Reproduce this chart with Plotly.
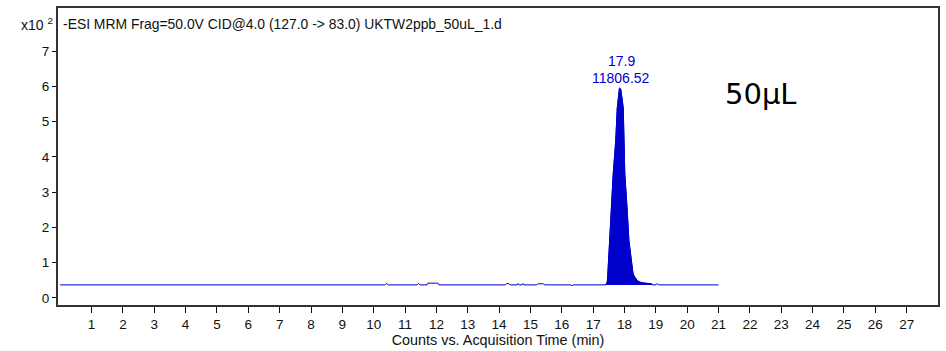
import plotly.graph_objects as go

# Chromatogram (counts in units of 10^2)
time_min = [0.0, 10.35, 10.41, 10.47, 11.38, 11.43, 11.48, 11.70, 11.73, 12.05, 12.08,
            14.20, 14.24, 14.31, 14.35, 14.58, 14.61, 14.64, 14.73, 14.76, 14.79,
            15.20, 15.23, 15.42, 15.45, 16.30, 16.33, 16.36,
            17.40, 17.45, 17.47, 17.52, 17.58, 17.64, 17.72, 17.77, 17.84, 17.88,
            17.96, 17.99, 18.01, 18.08, 18.14, 18.27, 18.32, 18.42, 18.55, 18.85, 18.92,
            19.00, 19.04, 19.08, 21.0]
counts_e2 = [0.37, 0.37, 0.41, 0.37, 0.37, 0.41, 0.37, 0.37, 0.42, 0.42, 0.37,
             0.37, 0.41, 0.41, 0.37, 0.37, 0.41, 0.37, 0.37, 0.41, 0.37,
             0.37, 0.40, 0.40, 0.37, 0.37, 0.34, 0.37,
             0.37, 0.45, 0.70, 1.63, 2.57, 3.51, 4.45, 5.39, 5.95, 5.92,
             5.39, 4.45, 3.51, 2.57, 1.63, 0.70, 0.60, 0.48, 0.43, 0.40, 0.37,
             0.37, 0.41, 0.37, 0.37]

peak_rt = 17.9
peak_area = "11806.52"

x_ticks = list(range(1, 28))
y_ticks = list(range(0, 8))

blue = "#0000CC"

# peak region polygon (closed along baseline)
i0 = time_min.index(17.40)
i1 = time_min.index(18.92)
peak_x = time_min[i0:i1 + 1]
peak_y = counts_e2[i0:i1 + 1]

fig = go.Figure()
fig.add_trace(go.Scatter(x=peak_x, y=peak_y, mode="lines", fill="toself",
                         fillcolor=blue, line=dict(color=blue, width=1),
                         hoverinfo="skip", showlegend=False))
fig.add_trace(go.Scatter(x=time_min, y=counts_e2, mode="lines",
                         line=dict(color=blue, width=1), showlegend=False))

font = "Liberation Sans, Arial, sans-serif"

fig.update_layout(
    width=946, height=351,
    margin=dict(l=58, r=6, t=6, b=46),
    paper_bgcolor="white", plot_bgcolor="white",
    font=dict(family=font, size=13, color="#111111"),
    xaxis=dict(range=[-0.07, 28.0], tickvals=x_ticks, ticks="outside", ticklen=6,
               tickwidth=1, tickcolor="#111111", showgrid=False, zeroline=False,
               showline=True, linecolor="#333333", linewidth=2, mirror=True,
               tickfont=dict(size=13.5),
               title=dict(text="Counts vs. Acquisition Time (min)", standoff=2,
                          font=dict(size=14.4))),
    yaxis=dict(range=[-0.2, 8.22], tickvals=y_ticks, ticks="outside", ticklen=4,
               tickwidth=1, tickcolor="#111111", showgrid=False, zeroline=False,
               showline=True, linecolor="#333333", linewidth=2, mirror=True,
               tickfont=dict(size=13.5)),
)

ann = [
    dict(xref="paper", yref="paper", x=(55 - 58) / 882, y=(305 - 22) / 299,
         xanchor="right", yanchor="middle", showarrow=False,
         text="x10 <sup>2</sup>", font=dict(size=14)),
    dict(xref="paper", yref="paper", x=(61 - 58) / 882, y=(305 - 22) / 299,
         xanchor="left", yanchor="middle", showarrow=False,
         text="-ESI MRM Frag=50.0V CID@4.0 (127.0 -> 83.0) UKTW2ppb_50uL_1.d",
         font=dict(size=13.9)),
    dict(x=peak_rt, y=6.72, xref="x", yref="y", showarrow=False,
         text=str(peak_rt), font=dict(size=14, color=blue), yanchor="middle"),
    dict(x=peak_rt, y=6.24, xref="x", yref="y", showarrow=False,
         text=peak_area, font=dict(size=14, color=blue), yanchor="middle"),
    dict(xref="paper", yref="paper", x=(725 - 58) / 882, y=(305 - 93) / 299,
         xanchor="left", yanchor="middle", showarrow=False,
         text="50μL", font=dict(size=29, family="DejaVu Sans, sans-serif", color="#000000")),
]
fig.update_layout(annotations=ann)

fig.write_html("out.html")
